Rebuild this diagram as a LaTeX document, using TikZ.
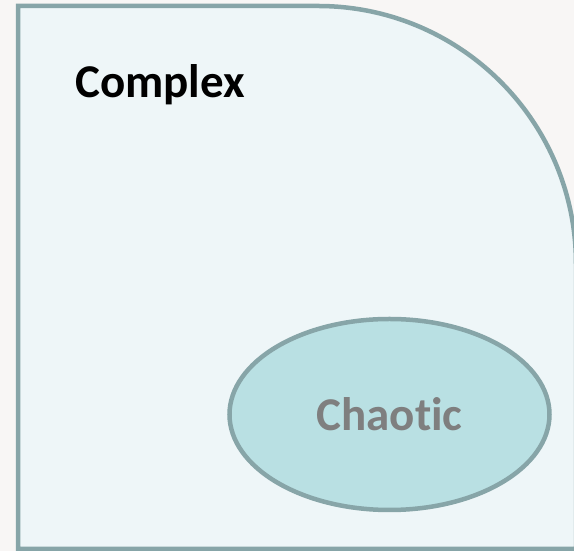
\documentclass[tikz,border=0pt]{standalone}
\usepackage{fontspec}
\setmainfont[Ligatures=CommonOff]{Carlito}
\usetikzlibrary{shapes.geometric}
\usepackage{xcolor}
\definecolor{rimgray}{HTML}{87A5A8}
\definecolor{paperwhite}{HTML}{F8F6F5}
\definecolor{regionfill}{HTML}{EEF6F8}
\definecolor{blobfill}{HTML}{B9E0E3}
\definecolor{labelgray}{HTML}{7F7F7F}

\begin{document}
\begin{tikzpicture}[x=1pt, y=1pt]
        % ================= 样式定义 =================
        \tikzset{
            % 大区域:灰绿边,浅蓝底
            region/.style={draw=rimgray, line width=4.5pt, fill=regionfill},
            % 椭圆样式:灰绿边,蓝绿底
            blob/.style={ellipse, draw=rimgray, line width=4.5pt, fill=blobfill, inner sep=0pt,
                         font=\fontsize{47}{50}\selectfont\bfseries, text=labelgray},
            % 标题文字
            title/.style={inner sep=0pt, anchor=base west,
                          font=\fontsize{47}{50}\selectfont\bfseries, text=black}
        }

        % ================= 1. 画布与背景 =================
        \useasboundingbox (0,0) rectangle (574,551);
        \clip (0,0) rectangle (574,551);
        \fill[paperwhite] (0,0) rectangle (574,551);

        % ================= 2. 绘制大区域 =================
        % 右上角是圆弧,右边界超出画面
        \draw[region] (18,545) -- (318,545) arc[start angle=90, end angle=0, radius=258]
            -- (576,2) -- (18,2) -- cycle;

        % ================= 3. 绘制节点 =================
        \node[title] (complex) at (75,453) {Complex};
        \node[blob, minimum width=320, minimum height=191] (chaotic) at (389.5,136.5) {Chaotic};

    \end{tikzpicture}
\end{document}
